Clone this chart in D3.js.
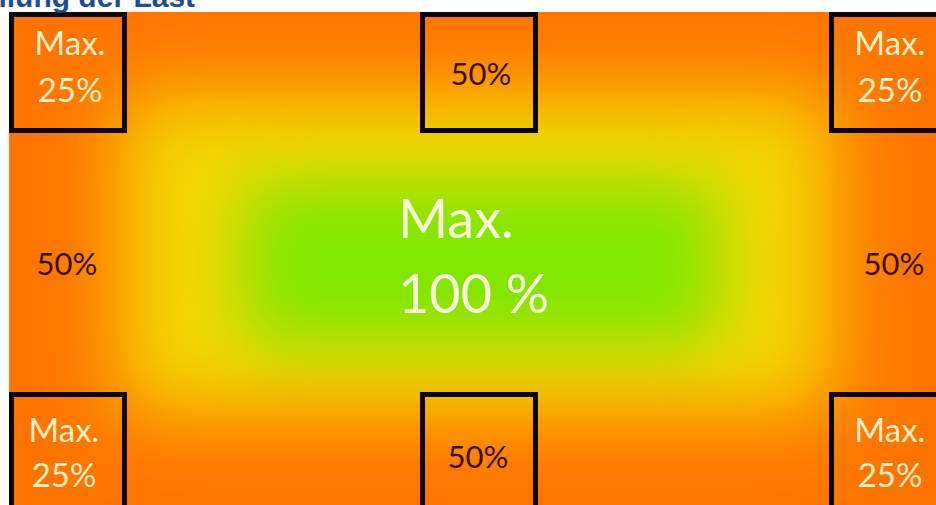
<!DOCTYPE html>
<html><head><meta charset="utf-8">
<script src="https://cdn.jsdelivr.net/npm/d3@7"></script>
<style>html,body{margin:0;padding:0;background:#fff;overflow:hidden}</style>
</head><body><svg id="c" width="936" height="505"></svg>
<script>
// ---- data ----
const title = "Verteilung der Last";
const zoneRows = ["top", "middle", "bottom"];
const zoneCols = ["left", "center", "right"];
const maxLoad = [[25, 50, 25], [50, 100, 50], [25, 50, 25]];
const showMax = [[true, false, true], [false, true, false], [true, false, true]];
const loadLevels = [25, 50, 100];
const loadColors = ["#ff7400", "#f4d800", "#80e600"];

// ---- drawing ----
const svg = d3.select("#c");
const W = 936, H = 505;
const area = {x0: 9, y0: 12, x1: 936, y1: 505};
const color = d3.scaleLinear().domain(loadLevels).range(loadColors);

const defs = svg.append("defs");
defs.append("clipPath").attr("id", "clip").append("rect")
  .attr("x", area.x0).attr("y", area.y0).attr("width", area.x1 - area.x0).attr("height", area.y1 - area.y0);
[["b1", 40], ["b2", 34]].forEach(([id, sd]) => {
  defs.append("filter").attr("id", id).attr("filterUnits", "userSpaceOnUse")
    .attr("x", -200).attr("y", -200).attr("width", W + 400).attr("height", H + 400)
    .append("feGaussianBlur").attr("stdDeviation", sd);
});

const heat = svg.append("g").attr("clip-path", "url(#clip)");
heat.append("rect").attr("x", area.x0).attr("y", area.y0)
  .attr("width", area.x1 - area.x0).attr("height", area.y1 - area.y0)
  .attr("fill", color(25));
// nested load zones (yellow ring, green core)
const zones = [
  {load: 50, x0: 0.12, x1: 0.89, y0: 0.165, y1: 0.815, f: "b1"},
  {load: 100, x0: 0.255, x1: 0.765, y0: 0.345, y1: 0.675, f: "b2"}
];
const xs = d3.scaleLinear().domain([0, 1]).range([area.x0, area.x1]);
const ys = d3.scaleLinear().domain([0, 1]).range([area.y0, area.y1]);
heat.selectAll("rect.zone").data(zones).join("rect").attr("class", "zone")
  .attr("x", d => xs(d.x0)).attr("y", d => ys(d.y0))
  .attr("width", d => xs(d.x1) - xs(d.x0)).attr("height", d => ys(d.y1) - ys(d.y0))
  .attr("fill", d => color(d.load)).attr("filter", d => "url(#" + d.f + ")");

// boxes (edge cells)
const colBox = {left: [11.5, 124.5], center: [422.5, 535.5], right: [831.5, 940]};
const rowBox = {top: [14.5, 130.5], bottom: [394.5, 510]};
const cells = [];
zoneRows.forEach((r, i) => zoneCols.forEach((c, j) => cells.push({r, c, v: maxLoad[i][j], m: showMax[i][j]})));
const boxed = cells.filter(d => rowBox[d.r]);
svg.append("g").selectAll("rect").data(boxed).join("rect")
  .attr("x", d => colBox[d.c][0]).attr("y", d => rowBox[d.r][0])
  .attr("width", d => colBox[d.c][1] - colBox[d.c][0]).attr("height", d => rowBox[d.r][1] - rowBox[d.r][0])
  .attr("fill", "none").attr("stroke", "#0b0505").attr("stroke-width", 5);

// labels
const labelX = {left: 70, center: 481, right: 890};
const labelY = {top: [55, 102, 85], middle: [0, 0, 275], bottom: [442, 487, 468]};
const font = "Lato, 'Open Sans', sans-serif";
const lab = svg.append("g").attr("font-family", font);
cells.forEach(d => {
  if (d.v === 100) {
    const t = lab.append("g").attr("fill", "#f6fbd8").attr("font-size", 54);
    t.append("text").attr("x", 398).attr("y", 238).text("Max.");
    t.append("text").attr("x", 398).attr("y", 313).text(d.v + " %");
  } else if (d.m) {
    const t = lab.append("g").attr("fill", "#fcefc4").attr("font-size", 33).attr("text-anchor", "middle");
    t.append("text").attr("x", labelX[d.c] - (d.r === "bottom" && d.c === "left" ? 6 : 0)).attr("y", labelY[d.r][0]).text("Max.");
    t.append("text").attr("x", labelX[d.c] - (d.r === "bottom" && d.c === "left" ? 6 : 0)).attr("y", labelY[d.r][1]).text(d.v + "%");
  } else {
    const x = d.c === "left" ? 67 : d.c === "right" ? 894 : (d.r === "bottom" ? 478 : 481);
    lab.append("text").attr("fill", "#3a0c02").attr("font-size", 31).attr("text-anchor", "middle")
      .attr("x", x).attr("y", labelY[d.r][2]).text(d.v + "%");
  }
});

// title (cut off at top, as in the reference)
svg.append("text").attr("x", -75).attr("y", 7)
  .attr("font-family", "'Liberation Sans', Arial, sans-serif").attr("font-weight", "bold")
  .attr("font-size", 30).attr("fill", "#1f4e8c").text(title);
</script></body></html>
